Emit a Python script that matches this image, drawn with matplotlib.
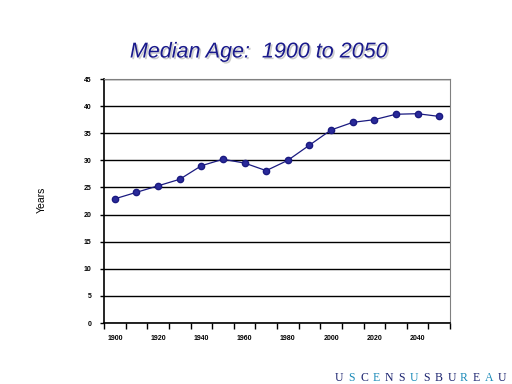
import matplotlib.pyplot as plt
import matplotlib.patheffects as pe

years = [1900, 1910, 1920, 1930, 1940, 1950, 1960, 1970,
         1980, 1990, 2000, 2010, 2020, 2030, 2040, 2050]
median_age = [22.9, 24.1, 25.3, 26.5, 29.0, 30.2, 29.5, 28.1,
              30.0, 32.8, 35.6, 37.0, 37.5, 38.5, 38.6, 38.1]
y_ticks = [0, 5, 10, 15, 20, 25, 30, 35, 40, 45]

footer = "USCENSUSBUREAU"
footer_colors = ["#1c2470", "#1a8ab8", "#1c2470", "#1a8ab8", "#1c2470",
                 "#1c2470", "#1a8ab8", "#1c2470", "#1c2470", "#1c2470",
                 "#1a8ab8", "#1c2470", "#1a8ab8", "#1c2470"]

plt.rcParams['font.family'] = ['Liberation Sans', 'DejaVu Sans']

fig = plt.figure(figsize=(5.12, 3.84), dpi=100)
ax = fig.add_axes([104 / 512, 61 / 384, 346 / 512, 244 / 384])

x = list(range(len(years)))
ax.plot(x, median_age, color='#1a1a80', lw=0.9, marker='o', ms=4.5,
        markerfacecolor='#2a2a9a', markeredgecolor='#1a1a80', zorder=3)

ax.set_xlim(-0.5, len(years) - 0.5)
ax.set_ylim(0, 45)
ax.set_yticks(y_ticks)
ax.set_yticklabels([str(v) for v in y_ticks], fontsize=5, fontweight='bold')
ax.yaxis.grid(True, color='black', lw=1.0)
ax.set_axisbelow(True)

# category axis: ticks between categories, labels every other category
ax.set_xticks([i - 0.5 for i in range(len(years) + 1)])
ax.set_xticklabels([])
ax.set_xticks(x[::2], minor=True)
ax.set_xticklabels([str(y) for y in years[::2]], minor=True,
                   fontsize=5, fontweight='bold')
ax.tick_params(axis='x', which='major', direction='out', length=4, width=1)
ax.tick_params(axis='x', which='minor', length=0, pad=9)
ax.tick_params(axis='y', direction='out', length=3, width=1, pad=6)

for side in ['top', 'right']:
    ax.spines[side].set_color('#808080')
for side in ['left', 'bottom']:
    ax.spines[side].set_color('black')
    ax.spines[side].set_linewidth(1.2)

fig.text(42 / 512, 1 - 200 / 384, 'Years', rotation=90, fontsize=7.5,
         ha='center', va='center')

fig.text(259 / 512, 1 - 52 / 384, 'Median Age:  1900 to 2050', fontsize=15.5,
         style='italic', color='#1a1a8c', ha='center', va='center',
         path_effects=[pe.withSimplePatchShadow(offset=(1.2, -1.2),
                                                shadow_rgbFace='#aaaaaa',
                                                alpha=0.6)])

for i, (ch, c) in enumerate(zip(footer, footer_colors)):
    fig.text((339 + i * 12.5) / 512, 1 - 378 / 384, ch, fontsize=8.5,
             family='Liberation Serif', color=c, ha='center', va='center')

fig.savefig('out.png', dpi=100)
